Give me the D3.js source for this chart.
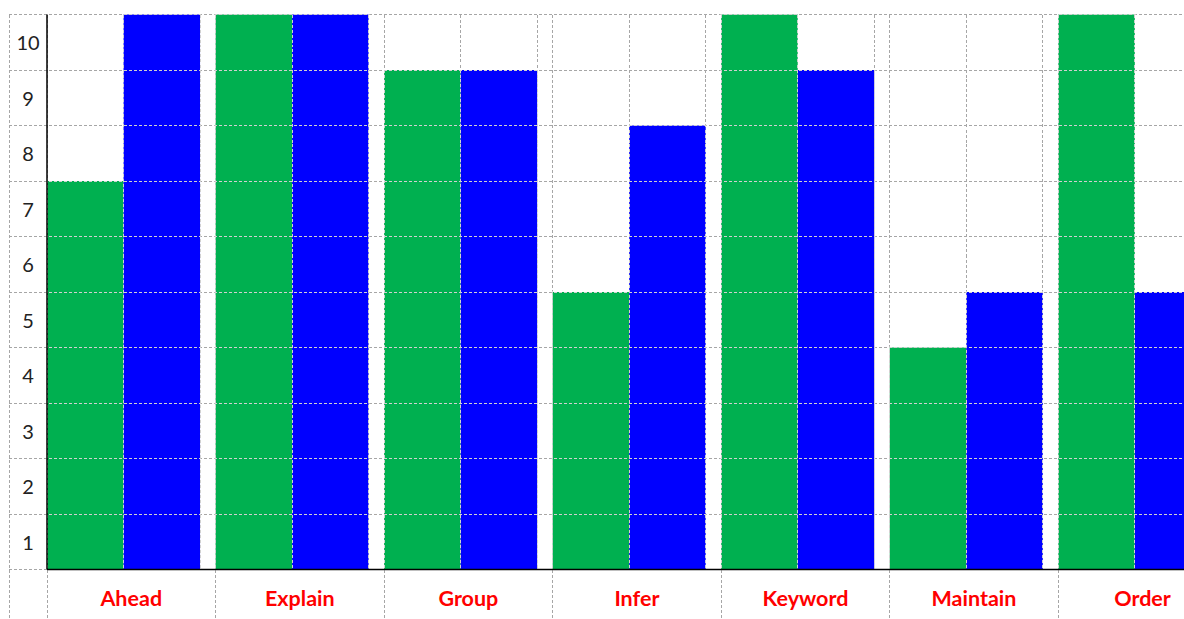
<!DOCTYPE html>
<html>
<head>
<meta charset="utf-8">
<script src="https://cdn.jsdelivr.net/npm/d3@7"></script>
<style>
  body { margin: 0; background: #fff; }
  svg { display: block; }
</style>
</head>
<body>
<div id="chart"></div>
<script>
/* Chart data */
const categories = ["Ahead", "Explain", "Group", "Infer", "Keyword", "Maintain", "Order"];
const seriesNames = ["green", "blue"];
const greenValues = [7, 10, 9, 5, 10, 4, 10];
const blueValues = [10, 10, 9, 8, 9, 5, 5];
const yTicks = [1, 2, 3, 4, 5, 6, 7, 8, 9, 10];

const colors = { green: "#00b050", blue: "#0000ff" };

/* Dimensions */
const width = 1184, height = 619;
const frameLeft = 9, axisLeft = 47;
const groupStep = 168.55, groupGap = 15.5;

const svg = d3.select("#chart")
  .append("svg")
  .attr("width", width)
  .attr("height", height);

/* Scales */
const x0 = d3.scaleBand()
  .domain(categories)
  .range([axisLeft, axisLeft + categories.length * groupStep])
  .padding(0);

const x1 = d3.scaleBand()
  .domain(seriesNames)
  .range([0, x0.bandwidth() - groupGap])
  .padding(0);

const y = d3.scaleLinear()
  .domain([0, 10])
  .range([569.5, 14.5]);

/* Build bar records */
const bars = [];
categories.forEach((c, i) => {
  bars.push({ cat: c, series: "green", value: greenValues[i] });
  bars.push({ cat: c, series: "blue", value: blueValues[i] });
});

/* Grid lines (dashed table borders) */
const drawGrid = (g, color) => {
  g.selectAll("line.h")
    .data(d3.range(0, 11))
    .join("line")
      .attr("class", "h")
      .attr("x1", frameLeft)
      .attr("x2", width)
      .attr("y1", d => y(d))
      .attr("y2", d => y(d));

  // bar edges inside the plot area
  const edges = [];
  categories.forEach(c => {
    edges.push(x0(c) + x1("green") + x1.bandwidth());
    edges.push(x0(c) + x1("blue") + x1.bandwidth());
  });
  g.selectAll("line.e")
    .data(edges)
    .join("line")
      .attr("class", "e")
      .attr("x1", d => d).attr("x2", d => d)
      .attr("y1", y(10)).attr("y2", y(0));

  // group boundaries run through the label row
  const full = [frameLeft].concat(categories.map(c => x0(c)));
  g.selectAll("line.f")
    .data(full)
    .join("line")
      .attr("class", "f")
      .attr("x1", d => d).attr("x2", d => d)
      .attr("y1", y(10)).attr("y2", height);

  g.selectAll("line")
    .attr("stroke", color)
    .attr("stroke-width", 1)
    .attr("stroke-dasharray", "3,2")
    .attr("shape-rendering", "crispEdges");
};

/* Bars */
svg.append("g")
  .selectAll("rect")
  .data(bars)
  .join("rect")
    .attr("x", d => x0(d.cat) + x1(d.series))
    .attr("y", d => y(d.value))
    .attr("width", x1.bandwidth())
    .attr("height", d => y(0) - y(d.value))
    .attr("fill", d => colors[d.series]);

/* Clip path matching the bars for the lighter grid */
svg.append("defs")
  .append("clipPath")
  .attr("id", "barClip")
  .selectAll("rect")
  .data(bars)
  .join("rect")
    .attr("x", d => x0(d.cat) + x1(d.series) - 1)
    .attr("y", d => y(d.value) - 1)
    .attr("width", x1.bandwidth() + 2)
    .attr("height", d => y(0) - y(d.value) + 2);

drawGrid(svg.append("g"), "#a6a6a6");
drawGrid(svg.append("g").attr("clip-path", "url(#barClip)"), "#d0d0d0");

/* Y axis line and x axis line */
svg.append("line")
  .attr("x1", axisLeft).attr("x2", axisLeft)
  .attr("y1", y(10)).attr("y2", y(0))
  .attr("stroke", "#000")
  .attr("stroke-width", 1.5);

svg.append("line")
  .attr("x1", axisLeft).attr("x2", width)
  .attr("y1", y(0)).attr("y2", y(0))
  .attr("stroke", "#000")
  .attr("stroke-width", 1.5);

/* Y tick labels, centred in each row */
svg.append("g")
  .selectAll("text")
  .data(yTicks)
  .join("text")
    .attr("x", (frameLeft + axisLeft) / 2)
    .attr("y", d => (y(d) + y(d - 1)) / 2)
    .attr("text-anchor", "middle")
    .attr("dominant-baseline", "central")
    .attr("font-family", "Lato, 'DejaVu Sans', sans-serif")
    .attr("font-size", "20px")
    .attr("fill", "#222")
    .text(d => d);

/* X category labels */
svg.append("g")
  .selectAll("text")
  .data(categories)
  .join("text")
    .attr("x", d => x0(d) + x0.bandwidth() / 2)
    .attr("y", 598)
    .attr("text-anchor", "middle")
    .attr("dominant-baseline", "central")
    .attr("font-family", "Lato, 'DejaVu Sans', sans-serif")
    .attr("font-weight", "bold")
    .attr("font-size", "21.5px")
    .attr("fill", "#ff0000")
    .text(d => d);
</script>
</body>
</html>
